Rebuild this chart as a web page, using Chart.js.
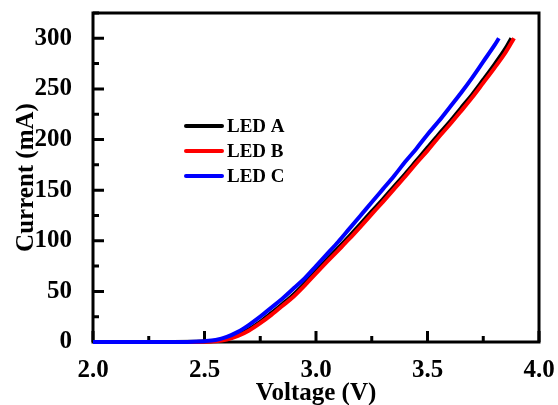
<!DOCTYPE html>
<html>
<head>
<meta charset="utf-8">
<script src="https://cdn.jsdelivr.net/npm/chart.js@4.4.1/dist/chart.umd.min.js"></script>
<style>
html, body { margin: 0; padding: 0; background: #fff; }
</style>
</head>
<body>
<canvas id="myChart" width="558" height="405"></canvas>
<script>
var ledNames = ['LED A', 'LED B', 'LED C'];
var ledColors = ['#000000', '#ff0000', '#0000ff'];

// I-V curves (V, mA)
var voltA = [2.0, 2.3, 2.5, 2.55, 2.6, 2.65, 2.7, 2.75, 2.8, 2.85, 2.9, 2.95, 3.0, 3.05, 3.1, 3.15, 3.2, 3.25, 3.3, 3.35, 3.4, 3.45, 3.5, 3.55, 3.6, 3.65, 3.7, 3.75, 3.8, 3.85, 3.876];
var currentA = [0, 0, 0.4, 1.2, 3.2, 7, 12.6, 20, 28.6, 37.6, 47, 58, 70, 81.7, 93, 104.7, 116.7, 129, 141, 153.6, 166, 179, 192, 205, 217.5, 231, 244.3, 259, 274, 290, 300];

var voltB = [2.0, 2.3, 2.5, 2.55, 2.6, 2.65, 2.7, 2.75, 2.8, 2.85, 2.9, 2.95, 3.0, 3.05, 3.1, 3.15, 3.2, 3.25, 3.3, 3.35, 3.4, 3.45, 3.5, 3.55, 3.6, 3.65, 3.7, 3.75, 3.8, 3.85, 3.888];
var currentB = [0, 0, 0.3, 0.8, 2.5, 6, 11.4, 18.6, 26.8, 35.8, 45, 56, 67.8, 79.3, 90.6, 102, 114, 126.3, 138.5, 151, 163.5, 176.6, 189, 202.3, 214.8, 228, 241.5, 256, 270.6, 286, 300];

var voltC = [2.0, 2.3, 2.45, 2.5, 2.55, 2.6, 2.65, 2.7, 2.75, 2.8, 2.85, 2.9, 2.95, 3.0, 3.05, 3.1, 3.15, 3.2, 3.25, 3.3, 3.35, 3.4, 3.45, 3.5, 3.55, 3.6, 3.65, 3.7, 3.75, 3.8, 3.82];
var currentC = [0, 0, 0.3, 0.8, 2, 5, 10, 17, 25, 34, 43, 53, 63, 75, 87, 99, 112, 125, 138, 151, 164, 178, 191, 205, 218, 232, 246, 261, 277, 293, 300];

var xTicks = [2.0, 2.5, 3.0, 3.5, 4.0];
var yTicks = [0, 50, 100, 150, 200, 250, 300];

var serif = "'Liberation Serif', 'Times New Roman', serif";

function toPoints(xs, ys) {
    return xs.map(function (v, i) { return { x: v, y: ys[i] }; });
}

// box round the plot with inward ticks
var framePlugin = {
    id: 'frame',
    beforeDatasetsDraw: function (chart) {
        var ctx = chart.ctx, a = chart.chartArea;
        var xs = chart.scales.x, ys = chart.scales.y;
        ctx.save();
        ctx.strokeStyle = '#000';
        ctx.lineWidth = 3;
        ctx.strokeRect(a.left, a.top, a.right - a.left, a.bottom - a.top);
        ctx.beginPath();
        for (var i = 0; i < xTicks.length; i++) {
            var px = xs.getPixelForValue(xTicks[i]);
            ctx.moveTo(px, a.bottom); ctx.lineTo(px, a.bottom - 11);
            if (i < xTicks.length - 1) {
                var mx = xs.getPixelForValue((xTicks[i] + xTicks[i + 1]) / 2);
                ctx.moveTo(mx, a.bottom); ctx.lineTo(mx, a.bottom - 6);
            }
        }
        for (var j = 0; j < yTicks.length; j++) {
            var py = ys.getPixelForValue(yTicks[j]);
            ctx.moveTo(a.left, py); ctx.lineTo(a.left + 11, py);
            var my = ys.getPixelForValue(yTicks[j] + 25);
            ctx.moveTo(a.left, my); ctx.lineTo(a.left + 6, my);
        }
        ctx.stroke();
        ctx.restore();
    }
};

// legend sits inside the plot
var legendPlugin = {
    id: 'insideLegend',
    afterDatasetsDraw: function (chart) {
        var ctx = chart.ctx, a = chart.chartArea;
        ctx.save();
        ctx.font = 'bold 19px ' + serif;
        ctx.textBaseline = 'middle';
        ctx.fillStyle = '#000';
        ledNames.forEach(function (name, i) {
            var y = a.top + 113 + i * 25;
            ctx.strokeStyle = ledColors[i];
            ctx.lineWidth = 4;
            ctx.lineCap = 'round';
            ctx.beginPath();
            ctx.moveTo(a.left + 93, y);
            ctx.lineTo(a.left + 129, y);
            ctx.stroke();
            ctx.fillText(name, a.left + 134, y + 1);
        });
        ctx.restore();
    }
};

var ctx = document.getElementById('myChart').getContext('2d');
var myChart = new Chart(ctx, {
    type: 'line',
    data: {
        datasets: [
            { label: ledNames[0], data: toPoints(voltA, currentA), borderColor: ledColors[0], order: 3 },
            { label: ledNames[1], data: toPoints(voltB, currentB), borderColor: ledColors[1], order: 2 },
            { label: ledNames[2], data: toPoints(voltC, currentC), borderColor: ledColors[2], order: 1 }
        ]
    },
    options: {
        responsive: false,
        animation: false,
        clip: 5,
        layout: { padding: { top: 13, right: 19, left: 0, bottom: 0 } },
        elements: {
            line: { borderWidth: 4, tension: 0.3, cubicInterpolationMode: 'monotone' },
            point: { radius: 0 }
        },
        plugins: {
            legend: { display: false },
            tooltip: { enabled: false }
        },
        scales: {
            x: {
                type: 'linear',
                min: 2, max: 4,
                grid: { display: false },
                border: { display: false },
                afterBuildTicks: function (scale) {
                    scale.ticks = xTicks.map(function (v) { return { value: v }; });
                },
                afterFit: function (scale) {
                    scale.height = 63;
                    scale.paddingLeft = 0;
                    scale.paddingRight = 0;
                },
                ticks: {
                    padding: 6,
                    color: '#000',
                    font: { family: serif, size: 25, weight: 'bold' },
                    callback: function (v) { return Number(v).toFixed(1); }
                },
                title: {
                    display: true,
                    text: 'Voltage (V)',
                    color: '#000',
                    padding: 0,
                    font: { family: serif, size: 25, weight: 'bold', lineHeight: 0.9 }
                }
            },
            y: {
                type: 'linear',
                min: 0, max: 325,
                grid: { display: false },
                border: { display: false },
                afterBuildTicks: function (scale) {
                    scale.ticks = yTicks.map(function (v) { return { value: v }; });
                },
                afterFit: function (scale) {
                    scale.width = 93;
                    scale.paddingTop = 0;
                    scale.paddingBottom = 0;
                },
                ticks: {
                    padding: 13,
                    color: '#000',
                    font: { family: serif, size: 25, weight: 'bold' }
                },
                title: {
                    display: true,
                    text: 'Current (mA)',
                    color: '#000',
                    padding: { top: 14, bottom: 0 },
                    font: { family: serif, size: 25, weight: 'bold', lineHeight: 1 }
                }
            }
        }
    },
    plugins: [framePlugin, legendPlugin]
});
</script>
</body>
</html>
